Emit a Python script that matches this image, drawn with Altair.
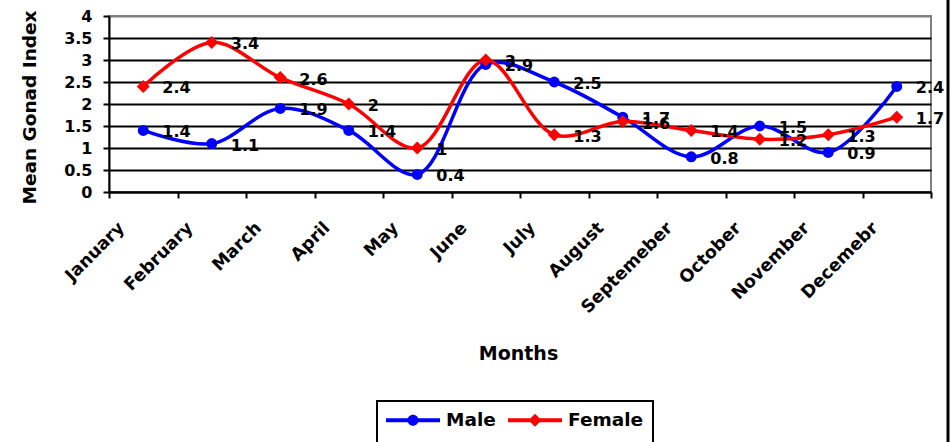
import altair as alt
import pandas as pd

# Monthly mean gonad index by sex
months = ["January", "February", "March", "April", "May", "June", "July",
          "August", "Septemeber", "October", "November", "Decemebr"]
male = [1.4, 1.1, 1.9, 1.4, 0.4, 2.9, 2.5, 1.7, 0.8, 1.5, 0.9, 2.4]
female = [2.4, 3.4, 2.6, 2.0, 1.0, 3.0, 1.3, 1.6, 1.4, 1.2, 1.3, 1.7]

series = ["Male", "Female"]
colors = ["#0000FF", "#FF0000"]
shapes = ["circle", "diamond"]
marker_sizes = [120, 170]
y_ticks = [0, 0.5, 1, 1.5, 2, 2.5, 3, 3.5, 4]

rows = []
for name, vals in zip(series, [male, female]):
    for i, (m, v) in enumerate(zip(months, vals)):
        rows.append({"month": m, "idx": i, "series": name, "value": v,
                     "label": f"{v:g}"})
df = pd.DataFrame(rows)

FONT = "DejaVu Sans"

# legend glyphs: a line segment with the series marker on it
male_glyph = ("M-1,-0.2H4.4V0.2H-1Z "
              "M2.25,0A0.55,0.55 0 1,1 1.15,0A0.55,0.55 0 1,1 2.25,0Z")
female_glyph = ("M-1,-0.2H4.4V0.2H-1Z "
                "M1.7,-0.65L2.35,0L1.7,0.65L1.05,0Z")

x = alt.X(
    "month:N", sort=months,
    scale=alt.Scale(paddingInner=0, paddingOuter=0),
    axis=alt.Axis(
        title="Months", titleFont=FONT, titleFontSize=19, titleFontWeight="bold",
        titleColor="black", titleY=161, titleBaseline="middle", titleX=409,
        labelAngle=-45, labelAlign="right", labelBaseline="middle",
        labelFont=FONT, labelFontSize=17.5, labelFontWeight="bold",
        labelColor="black", labelPadding=27, labelOffset=-22,
        tickBand="extent", tickSize=6, tickWidth=2, tickColor="black",
        domainColor="black", domainWidth=2, grid=False,
    ),
)

y = alt.Y(
    "value:Q",
    scale=alt.Scale(domain=[0, 4], nice=False),
    axis=alt.Axis(
        values=y_ticks, format="~g",
        title="Mean Gonad Index", titleFont=FONT, titleFontSize=18.5,
        titleFontWeight="bold", titleColor="black", titleAngle=-90,
        titleX=-74, titleY=91, titleAlign="center", titleBaseline="alphabetic",
        labelFont=FONT, labelFontSize=16, labelFontWeight="bold",
        labelColor="black", labelPadding=11,
        tickSize=6, tickWidth=2, tickColor="black",
        domainColor="black", domainWidth=2,
        grid=True, gridWidth=2,
        gridColor={"condition": {"test": "datum.value === 4", "value": "#808080"},
                   "value": "black"},
    ),
)

legend = alt.Legend(
    orient="none", legendX=268, legendY=385, direction="horizontal",
    title=" ", titleOrient="bottom", titleFontSize=12, titlePadding=4,
    strokeColor="black", fillColor="white", padding=9,
    symbolSize=400, symbolStrokeWidth=0, symbolOpacity=1,
    labelFont=FONT, labelFontSize=18.5, labelFontWeight="bold", labelColor="black",
    labelOffset=40, columnPadding=12,
)

color_scale = alt.Scale(domain=series, range=colors)

lines = alt.Chart(df).mark_line(interpolate="catmull-rom", strokeWidth=3.5).encode(
    x=x, y=y,
    color=alt.Color("series:N", scale=color_scale, legend=None),
    order=alt.Order("idx:Q"),
)

points = alt.Chart(df).mark_point(filled=True, opacity=1).encode(
    x=x, y=y,
    color=alt.Color("series:N", scale=color_scale, legend=None),
    shape=alt.Shape("series:N", scale=alt.Scale(domain=series, range=shapes), legend=None),
    size=alt.Size("series:N", scale=alt.Scale(domain=series, range=marker_sizes), legend=None),
)

labels = alt.Chart(df).mark_text(
    align="left", baseline="middle", dx=19, dy=2,
    font=FONT, fontSize=16, fontWeight="bold", color="black",
).encode(x=x, y=y, text="label:N")

# legend-only layer: no rows drawn, entries come from the scale domains
key = alt.Chart(df).transform_filter("false").mark_point(
    filled=True, opacity=1, size=400
).encode(
    color=alt.Color("series:N", scale=color_scale, legend=legend),
    shape=alt.Shape("series:N",
                    scale=alt.Scale(domain=series, range=[male_glyph, female_glyph]),
                    legend=legend),
)

# right-hand edge of the chart frame
frame = alt.Chart(pd.DataFrame({"edge": [0]})).mark_rule(
    color="black", strokeWidth=3
).encode(x=alt.value(839), y=alt.value(-16), y2=alt.value(426))

chart = alt.layer(lines, points, labels, key, frame).resolve_scale(
    color="independent", shape="independent"
).properties(
    width=822, height=176,
    padding={"left": 109, "top": 16, "right": 20, "bottom": 250},
    autosize=alt.AutoSizeParams(type="none"),
    background="white",
).configure_view(
    stroke="#808080", strokeWidth=2
).configure_legend(strokeWidth=2)

chart.save("out.html", embed_options={"renderer": "svg", "actions": False})
